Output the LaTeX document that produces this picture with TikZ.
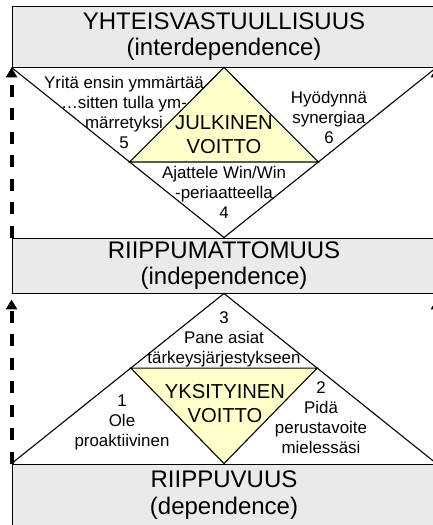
\documentclass[tikz,border=0pt]{standalone}
\usepackage{fontspec}
\setmainfont{Liberation Sans}
\usetikzlibrary{arrows.meta,calc}
\definecolor{boxgray}{HTML}{EAEAEA}
\definecolor{winyellow}{HTML}{FFFFCC}
\begin{document}
\begin{tikzpicture}[x=1pt,y=-1pt,
  level/.style={draw=black, line width=0.9pt, fill=boxgray, rectangle,
    minimum width=424pt, inner sep=0pt, align=center,
    font=\fontsize{24}{26.5}\selectfont},
  habit/.style={align=center, inner sep=0pt, font=\fontsize{16.9}{20}\selectfont},
  win/.style={align=center, inner sep=0pt, font=\fontsize{20.2}{24}\selectfont},
  edge/.style={draw=black, line width=1.1pt, line join=miter},
  growth/.style={line width=4pt, dash pattern=on 12pt off 11.5pt,
    -{Triangle[width=11pt,length=10pt]}}
]
\useasboundingbox (0,0) rectangle (433,525);
\clip (0,0) rectangle (433,525);
\fill[white] (0,0) rectangle (433,525);

% the three maturity levels
\node[level, minimum height=61pt] (inter) at (224,36.5)
  {YHTEISVASTUULLISUUS\\(interdependence)};
\node[level, minimum height=55pt] (indep) at (224,265.5)
  {RIIPPUMATTOMUUS\\(independence)};
\node[level, minimum height=62pt] (dep) at (224,495)
  {RIIPPUVUUS\\(dependence)};

% upper stage: inverted triangle with the public victory inside
\coordinate (uL) at ($(inter.south west)!0.556!(indep.north)$);
\coordinate (uR) at ($(inter.south east)!0.556!(indep.north)$);
\draw[edge] (inter.south west) -- (indep.north) -- (inter.south east);
\filldraw[edge, fill=winyellow] (inter.south) -- (uR) -- (uL) -- cycle;

% lower stage: upright triangle with the private victory inside
\coordinate (lL) at ($(indep.south)!0.4386!(dep.north west)$);
\coordinate (lR) at ($(indep.south)!0.4386!(dep.north east)$);
\draw[edge] (dep.north west) -- (indep.south) -- (dep.north east);
\draw[edge] (lL) -- (lR);
\filldraw[edge, fill=winyellow] (lL) -- (lR) -- (dep.north) -- cycle;

% growth arrows between the levels
\draw[growth] (indep.north west) -- (inter.south west);
\draw[growth] (indep.north east) -- (inter.south east);
\draw[growth, shorten >=6pt] (dep.north west) -- (indep.south west);
\draw[growth, shorten >=6pt] (dep.north east) -- (indep.south east);

% habits and victories
\node[habit] (h5) at (124,112) {Yritä ensin ymmärtää\\…sitten tulla ym-\\märretyksi\\5};
\node[habit] (h6) at (329,117.5) {Hyödynnä\\synergiaa\\6};
\node[win]   (pub) at (224,135) {JULKINEN\\VOITTO};
\node[habit] (h4) at (224,192.5) {Ajattele Win/Win\\-periaatteella\\4};

\node[habit] (h3) at (224,339) {3\\Pane asiat\\tärkeysjärjestykseen};
\node[win]   (priv) at (225,403.5) {YKSITYINEN\\VOITTO};
\node[habit] (h1) at (122,422) {1\\Ole\\proaktiivinen};
\node[habit] (h2) at (321,418) {2\\Pidä\\perustavoite\\mielessäsi};
\end{tikzpicture}
\end{document}
